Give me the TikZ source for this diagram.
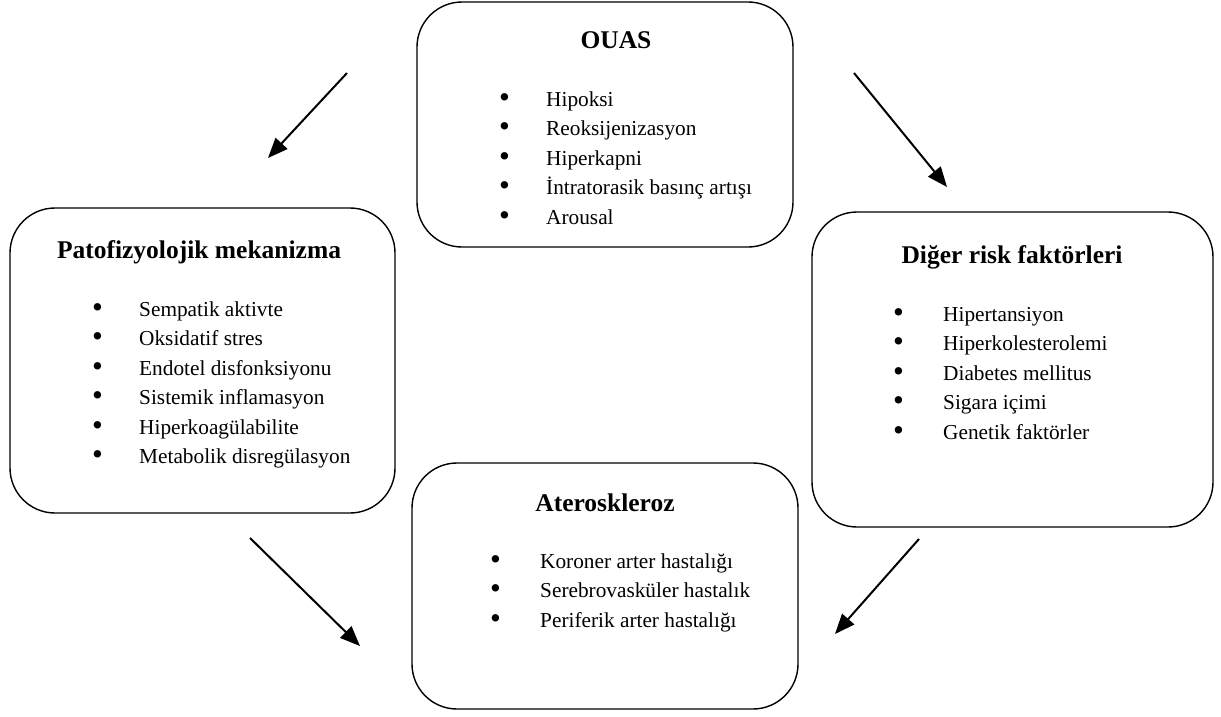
\documentclass[tikz,border=0pt]{standalone}
\usepackage{fontspec}
\setmainfont{Liberation Serif}
\usetikzlibrary{arrows.meta}
\newcommand\myitem[2]{\makebox[#1][l]{\hspace*{-1.3pt}\raisebox{-1.2pt}{\scalebox{1.45}{•}}}#2}
\begin{document}
\begin{tikzpicture}[x=1pt,y=-1pt,
  rbox/.style={draw, line width=1.4pt, rounded corners=45pt, inner sep=0pt},
  ttl/.style={font=\fontsize{25.5}{30}\selectfont\bfseries, inner sep=0pt, anchor=base},
  lst/.style={font=\fontsize{21.3}{29.5}\selectfont, align=left, inner sep=0pt, anchor=base west},
  arr/.style={line width=2pt, -{Triangle[length=20pt,width=16pt]}}]
\useasboundingbox (0,0) rectangle (1221,717);
% boxes
\node[rbox, minimum width=376pt, minimum height=245pt] (ouas) at (605,124.5) {};
\node[rbox, minimum width=385pt, minimum height=305pt] (pato) at (202.5,360.5) {};
\node[rbox, minimum width=401pt, minimum height=315pt] (diger) at (1012.5,369.5) {};
\node[rbox, minimum width=386pt, minimum height=246pt] (ater) at (605,586) {};
% titles
\node[ttl] (tOuas) at (616,48.5) {OUAS};
\node[ttl] (tPato) at (199,258.5) {Patofizyolojik mekanizma};
\node[ttl] (tDiger) at (1012,263.5) {Diğer risk faktörleri};
\node[ttl] (tAter) at (605,511) {Ateroskleroz};
% lists (anchor = baseline of last line)
\node[lst] (lOuas) at (500.3,224) {\myitem{45.7pt}{Hipoksi}\\\myitem{45.7pt}{Reoksijenizasyon}\\\myitem{45.7pt}{Hiperkapni}\\\myitem{45.7pt}{İntratorasik basınç artışı}\\\myitem{45.7pt}{Arousal}};
\node[lst] (lPato) at (93.3,463.5) {\myitem{45.7pt}{Sempatik aktivte}\\\myitem{45.7pt}{Oksidatif stres}\\\myitem{45.7pt}{Endotel disfonksiyonu}\\\myitem{45.7pt}{Sistemik inflamasyon}\\\myitem{45.7pt}{Hiperkoagülabilite}\\\myitem{45.7pt}{Metabolik disregülasyon}};
\node[lst] (lDiger) at (894.3,439) {\myitem{48.7pt}{Hipertansiyon}\\\myitem{48.7pt}{Hiperkolesterolemi}\\\myitem{48.7pt}{Diabetes mellitus}\\\myitem{48.7pt}{Sigara içimi}\\\myitem{48.7pt}{Genetik faktörler}};
\node[lst] (lAter) at (491.3,627) {\myitem{48.7pt}{Koroner arter hastalığı}\\\myitem{48.7pt}{Serebrovasküler hastalık}\\\myitem{48.7pt}{Periferik arter hastalığı}};
% arrow end points
\coordinate (a1s) at (347,73);  \coordinate (a1e) at (268,158);
\coordinate (a2s) at (854,73);  \coordinate (a2e) at (947,187);
\coordinate (a3s) at (250,538); \coordinate (a3e) at (360,646);
\coordinate (a4s) at (919,539); \coordinate (a4e) at (835,634);
\draw[arr] (a1s) -- (a1e);
\draw[arr] (a2s) -- (a2e);
\draw[arr] (a3s) -- (a3e);
\draw[arr] (a4s) -- (a4e);
\end{tikzpicture}
\end{document}
